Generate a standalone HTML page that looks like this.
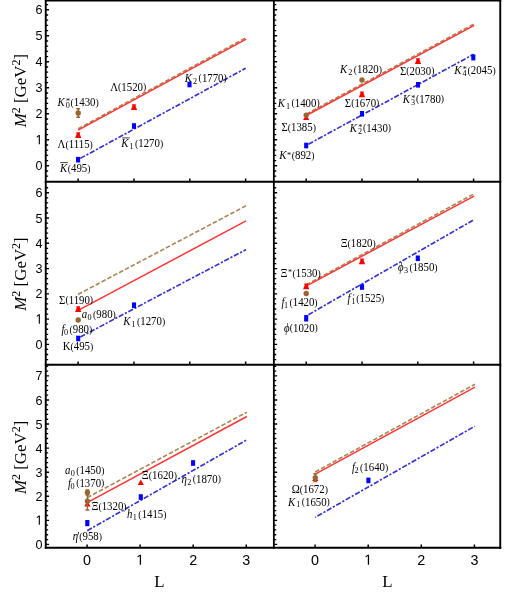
<!DOCTYPE html>
<html><head><meta charset="utf-8"><title>chart</title><style>html,body{margin:0;padding:0;background:#fff;overflow:hidden}svg{display:block;position:absolute;left:0;top:0;will-change:transform}</style></head><body>
<svg width="529" height="593" viewBox="0 0 529 593">
<rect width="100%" height="100%" fill="#fff"/>
<path d="M78.1 128.8L246.2 37.6" stroke="#aa8555" stroke-width="1.60" fill="none" stroke-dasharray="4.55 2.07"/>
<path d="M78.1 130.2L246.2 39.1" stroke="#ff3535" stroke-width="1.50" fill="none"/>
<path d="M78.1 159.6L245.7 68.2" stroke="#3333cc" stroke-width="1.65" fill="none" stroke-dasharray="5.25 1.7 2.2 1.7" stroke-dashoffset="8.3"/>
<path d="M306.2 114.1L474.2 23.9" stroke="#aa8555" stroke-width="1.60" fill="none" stroke-dasharray="4.55 2.07"/>
<path d="M306.2 115.5L474.2 25.3" stroke="#ff3535" stroke-width="1.50" fill="none"/>
<path d="M306.2 145.4L473.6 54.3" stroke="#3333cc" stroke-width="1.65" fill="none" stroke-dasharray="5.25 1.7 2.2 1.7" stroke-dashoffset="8.3"/>
<path d="M78.1 294.3L246.0 205.8" stroke="#aa8555" stroke-width="1.60" fill="none" stroke-dasharray="4.55 2.07"/>
<path d="M78.1 310.4L246.0 220.9" stroke="#ff3535" stroke-width="1.50" fill="none"/>
<path d="M78.1 338.2L246.0 249.6" stroke="#3333cc" stroke-width="1.65" fill="none" stroke-dasharray="5.25 1.7 2.2 1.7" stroke-dashoffset="8.3"/>
<path d="M306.2 284.8L474.0 193.9" stroke="#aa8555" stroke-width="1.60" fill="none" stroke-dasharray="4.55 2.07"/>
<path d="M306.2 286.1L474.0 196.1" stroke="#ff3535" stroke-width="1.50" fill="none"/>
<path d="M306.2 316.0L474.0 219.7" stroke="#3333cc" stroke-width="1.65" fill="none" stroke-dasharray="5.25 1.7 2.2 1.7" stroke-dashoffset="8.3"/>
<path d="M87.2 497.6L246.8 412.2" stroke="#aa8555" stroke-width="1.60" fill="none" stroke-dasharray="4.55 2.07"/>
<path d="M87.2 502.7L246.8 416.5" stroke="#ff3535" stroke-width="1.50" fill="none"/>
<path d="M87.2 530.7L246.8 439.9" stroke="#3333cc" stroke-width="1.65" fill="none" stroke-dasharray="5.25 1.7 2.2 1.7" stroke-dashoffset="10.8"/>
<path d="M315.2 472.0L475.0 384.2" stroke="#aa8555" stroke-width="1.60" fill="none" stroke-dasharray="4.55 2.07"/>
<path d="M315.2 474.2L475.0 387.1" stroke="#ff3535" stroke-width="1.50" fill="none"/>
<path d="M315.2 517.3L474.7 426.3" stroke="#3333cc" stroke-width="1.65" fill="none" stroke-dasharray="5.25 1.7 2.2 1.7" stroke-dashoffset="8.3"/>
<path d="M78.2 108.4V117.6M76.3 108.7h3.8M76.3 117.3h3.8" stroke="#996633" stroke-width="1.5" fill="none"/>
<circle cx="78.2" cy="113.0" r="2.7" fill="#996633"/>
<path d="M76.3 132.3L80.1 132.3L80.1 133.5L79.6 133.5L81.3 138.0L75.1 138.0L76.8 133.5L76.3 133.5Z" fill="#ff0000"/>
<rect x="76.05" y="156.9" width="4.1" height="5.6" fill="#0000ff"/>
<path d="M132.1 104.2L135.9 104.2L135.9 105.4L135.4 105.4L137.1 109.9L130.9 109.9L132.6 105.4L132.1 105.4Z" fill="#ff0000"/>
<rect x="131.95" y="123.2" width="4.1" height="5.6" fill="#0000ff"/>
<rect x="187.45" y="81.7" width="4.1" height="5.6" fill="#0000ff"/>
<path d="M306.2 114.4L309.3 120.1L303.1 120.1Z" fill="#ff0000"/>
<circle cx="306.2" cy="115.1" r="2.7" fill="#996633"/>
<rect x="304.15" y="142.7" width="4.1" height="5.6" fill="#0000ff"/>
<circle cx="362.0" cy="80.0" r="2.7" fill="#996633"/>
<path d="M360.1 91.5L363.9 91.5L363.9 92.7L363.4 92.7L365.1 97.2L358.9 97.2L360.6 92.7L360.1 92.7Z" fill="#ff0000"/>
<rect x="359.95" y="111.0" width="4.1" height="5.6" fill="#0000ff"/>
<path d="M416.1 58.2L419.9 58.2L419.9 59.4L419.4 59.4L421.1 63.9L414.9 63.9L416.6 59.4L416.1 59.4Z" fill="#ff0000"/>
<rect x="415.95" y="82.0" width="4.1" height="5.6" fill="#0000ff"/>
<rect x="471.25" y="54.4" width="4.1" height="6.0" fill="#0000ff"/>
<path d="M76.3 306.3L80.1 306.3L80.1 307.5L79.6 307.5L81.3 312.0L75.1 312.0L76.8 307.5L76.3 307.5Z" fill="#ff0000"/>
<circle cx="78.2" cy="320.0" r="2.7" fill="#996633"/>
<rect x="76.15" y="335.7" width="4.1" height="5.6" fill="#0000ff"/>
<rect x="131.95" y="302.4" width="4.1" height="5.6" fill="#0000ff"/>
<path d="M304.3 283.6L308.1 283.6L308.1 284.8L307.6 284.8L309.3 289.3L303.1 289.3L304.8 284.8L304.3 284.8Z" fill="#ff0000"/>
<circle cx="306.2" cy="293.5" r="2.7" fill="#996633"/>
<rect x="304.15" y="315.1" width="4.1" height="6.4" fill="#0000ff"/>
<path d="M360.1 258.5L363.9 258.5L363.9 259.7L363.4 259.7L365.1 264.2L358.9 264.2L360.6 259.7L360.1 259.7Z" fill="#ff0000"/>
<rect x="359.95" y="284.2" width="4.1" height="5.6" fill="#0000ff"/>
<rect x="415.75" y="255.5" width="4.1" height="5.6" fill="#0000ff"/>
<path d="M87.4 500.8L90.5 506.5L84.3 506.5Z" fill="#ff0000"/>
<path d="M87.4 489.9V495.1M85.5 490.1h3.8M85.5 494.9h3.8" stroke="#996633" stroke-width="1.5" fill="none"/>
<circle cx="87.4" cy="492.5" r="2.7" fill="#996633"/>
<path d="M87.4 492.2V510.2M85.5 492.4h3.8M85.5 509.9h3.8" stroke="#996633" stroke-width="1.5" fill="none"/>
<circle cx="87.4" cy="501.2" r="2.7" fill="#996633"/>
<rect x="85.25" y="520.0" width="4.1" height="6.2" fill="#0000ff"/>
<path d="M140.8 479.4L143.9 485.1L137.7 485.1Z" fill="#ff0000"/>
<rect x="138.75" y="494.2" width="4.1" height="5.6" fill="#0000ff"/>
<rect x="191.05" y="460.2" width="4.1" height="5.6" fill="#0000ff"/>
<path d="M315.3 475.4L318.4 481.1L312.2 481.1Z" fill="#ff0000"/>
<path d="M315.3 473.4V481.8M313.4 473.7h3.8M313.4 481.6h3.8" stroke="#996633" stroke-width="1.5" fill="none"/>
<circle cx="315.3" cy="477.6" r="2.7" fill="#996633"/>
<rect x="366.35" y="477.6" width="4.1" height="5.6" fill="#0000ff"/>
<path d="M44.8 0.55H501.2" stroke="#000" stroke-width="1.90"/>
<path d="M44.8 181.75H501.2" stroke="#000" stroke-width="1.80"/>
<path d="M44.8 364.75H501.2" stroke="#000" stroke-width="1.80"/>
<path d="M44.8 547.80H501.2" stroke="#000" stroke-width="2.00"/>
<path d="M45.75 0.0V548.8" stroke="#000" stroke-width="1.90"/>
<path d="M273.85 0.0V548.8" stroke="#000" stroke-width="1.80"/>
<path d="M500.25 0.0V548.8" stroke="#000" stroke-width="1.90"/>
<path d="M45.8 165.80h3.25M45.8 139.80h3.25M45.8 113.80h3.25M45.8 87.80h3.25M45.8 61.80h3.25M45.8 35.80h3.25M45.8 9.80h3.25M273.9 165.80h3.25M273.9 139.80h3.25M273.9 113.80h3.25M273.9 87.80h3.25M273.9 61.80h3.25M273.9 35.80h3.25M273.9 9.80h3.25M45.8 344.40h3.25M45.8 319.13h3.25M45.8 293.86h3.25M45.8 268.59h3.25M45.8 243.32h3.25M45.8 218.05h3.25M45.8 192.78h3.25M273.9 344.40h3.25M273.9 319.13h3.25M273.9 293.86h3.25M273.9 268.59h3.25M273.9 243.32h3.25M273.9 218.05h3.25M273.9 192.78h3.25M45.8 544.40h3.25M45.8 520.33h3.25M45.8 496.26h3.25M45.8 472.19h3.25M45.8 448.12h3.25M45.8 424.05h3.25M45.8 399.98h3.25M45.8 375.91h3.25M273.9 544.40h3.25M273.9 520.33h3.25M273.9 496.26h3.25M273.9 472.19h3.25M273.9 448.12h3.25M273.9 424.05h3.25M273.9 399.98h3.25M273.9 375.91h3.25" stroke="#000" stroke-width="1.4" fill="none"/>
<path d="M45.8 176.20h2.35M45.8 171.00h2.35M45.8 160.60h2.35M45.8 155.40h2.35M45.8 150.20h2.35M45.8 145.00h2.35M45.8 134.60h2.35M45.8 129.40h2.35M45.8 124.20h2.35M45.8 119.00h2.35M45.8 108.60h2.35M45.8 103.40h2.35M45.8 98.20h2.35M45.8 93.00h2.35M45.8 82.60h2.35M45.8 77.40h2.35M45.8 72.20h2.35M45.8 67.00h2.35M45.8 56.60h2.35M45.8 51.40h2.35M45.8 46.20h2.35M45.8 41.00h2.35M45.8 30.60h2.35M45.8 25.40h2.35M45.8 20.20h2.35M45.8 15.00h2.35M45.8 4.60h2.35M273.9 176.20h2.35M273.9 171.00h2.35M273.9 160.60h2.35M273.9 155.40h2.35M273.9 150.20h2.35M273.9 145.00h2.35M273.9 134.60h2.35M273.9 129.40h2.35M273.9 124.20h2.35M273.9 119.00h2.35M273.9 108.60h2.35M273.9 103.40h2.35M273.9 98.20h2.35M273.9 93.00h2.35M273.9 82.60h2.35M273.9 77.40h2.35M273.9 72.20h2.35M273.9 67.00h2.35M273.9 56.60h2.35M273.9 51.40h2.35M273.9 46.20h2.35M273.9 41.00h2.35M273.9 30.60h2.35M273.9 25.40h2.35M273.9 20.20h2.35M273.9 15.00h2.35M273.9 4.60h2.35M45.8 359.56h2.35M45.8 354.51h2.35M45.8 349.45h2.35M45.8 339.35h2.35M45.8 334.29h2.35M45.8 329.24h2.35M45.8 324.18h2.35M45.8 314.08h2.35M45.8 309.02h2.35M45.8 303.97h2.35M45.8 298.91h2.35M45.8 288.81h2.35M45.8 283.75h2.35M45.8 278.70h2.35M45.8 273.64h2.35M45.8 263.54h2.35M45.8 258.48h2.35M45.8 253.43h2.35M45.8 248.37h2.35M45.8 238.27h2.35M45.8 233.21h2.35M45.8 228.16h2.35M45.8 223.10h2.35M45.8 213.00h2.35M45.8 207.94h2.35M45.8 202.89h2.35M45.8 197.83h2.35M45.8 187.73h2.35M273.9 359.56h2.35M273.9 354.51h2.35M273.9 349.45h2.35M273.9 339.35h2.35M273.9 334.29h2.35M273.9 329.24h2.35M273.9 324.18h2.35M273.9 314.08h2.35M273.9 309.02h2.35M273.9 303.97h2.35M273.9 298.91h2.35M273.9 288.81h2.35M273.9 283.75h2.35M273.9 278.70h2.35M273.9 273.64h2.35M273.9 263.54h2.35M273.9 258.48h2.35M273.9 253.43h2.35M273.9 248.37h2.35M273.9 238.27h2.35M273.9 233.21h2.35M273.9 228.16h2.35M273.9 223.10h2.35M273.9 213.00h2.35M273.9 207.94h2.35M273.9 202.89h2.35M273.9 197.83h2.35M273.9 187.73h2.35M45.8 539.59h2.35M45.8 534.77h2.35M45.8 529.96h2.35M45.8 525.14h2.35M45.8 515.52h2.35M45.8 510.70h2.35M45.8 505.89h2.35M45.8 501.07h2.35M45.8 491.45h2.35M45.8 486.63h2.35M45.8 481.82h2.35M45.8 477.00h2.35M45.8 467.38h2.35M45.8 462.56h2.35M45.8 457.75h2.35M45.8 452.93h2.35M45.8 443.31h2.35M45.8 438.49h2.35M45.8 433.68h2.35M45.8 428.86h2.35M45.8 419.24h2.35M45.8 414.42h2.35M45.8 409.61h2.35M45.8 404.79h2.35M45.8 395.17h2.35M45.8 390.35h2.35M45.8 385.54h2.35M45.8 380.72h2.35M45.8 371.10h2.35M45.8 366.28h2.35M273.9 539.59h2.35M273.9 534.77h2.35M273.9 529.96h2.35M273.9 525.14h2.35M273.9 515.52h2.35M273.9 510.70h2.35M273.9 505.89h2.35M273.9 501.07h2.35M273.9 491.45h2.35M273.9 486.63h2.35M273.9 481.82h2.35M273.9 477.00h2.35M273.9 467.38h2.35M273.9 462.56h2.35M273.9 457.75h2.35M273.9 452.93h2.35M273.9 443.31h2.35M273.9 438.49h2.35M273.9 433.68h2.35M273.9 428.86h2.35M273.9 419.24h2.35M273.9 414.42h2.35M273.9 409.61h2.35M273.9 404.79h2.35M273.9 395.17h2.35M273.9 390.35h2.35M273.9 385.54h2.35M273.9 380.72h2.35M273.9 371.10h2.35M273.9 366.28h2.35" stroke="#000" stroke-width="1.3" fill="none"/>
<path d="M78.10 181.8v-3.2M133.95 181.8v-3.2M189.80 181.8v-3.2M245.65 181.8v-3.2M306.20 181.8v-3.2M362.00 181.8v-3.2M417.80 181.8v-3.2M473.60 181.8v-3.2M78.10 364.8v-3.2M133.95 364.8v-3.2M189.80 364.8v-3.2M245.65 364.8v-3.2M306.20 364.8v-3.2M362.00 364.8v-3.2M417.80 364.8v-3.2M473.60 364.8v-3.2M87.10 547.8v-3.2M140.15 547.8v-3.2M193.20 547.8v-3.2M246.25 547.8v-3.2M315.10 547.8v-3.2M368.20 547.8v-3.2M421.30 547.8v-3.2M474.40 547.8v-3.2" stroke="#000" stroke-width="1.5" fill="none"/>
<g font-family="Liberation Sans, sans-serif" font-size="13.5" fill="#000">
<text x="35.6" y="170.3" textLength="7" lengthAdjust="spacingAndGlyphs">0</text>
<path transform="translate(35.60 144.30) scale(0.006146 -0.006592)" d="M515 0V1237L197 1010V1180L530 1409H696V0Z" fill="#000"/>
<text x="35.6" y="118.3" textLength="7" lengthAdjust="spacingAndGlyphs">2</text>
<text x="35.6" y="92.3" textLength="7" lengthAdjust="spacingAndGlyphs">3</text>
<text x="35.6" y="66.3" textLength="7" lengthAdjust="spacingAndGlyphs">4</text>
<text x="35.6" y="40.3" textLength="7" lengthAdjust="spacingAndGlyphs">5</text>
<text x="35.6" y="14.3" textLength="7" lengthAdjust="spacingAndGlyphs">6</text>
<text x="35.6" y="348.9" textLength="7" lengthAdjust="spacingAndGlyphs">0</text>
<path transform="translate(35.60 323.63) scale(0.006146 -0.006592)" d="M515 0V1237L197 1010V1180L530 1409H696V0Z" fill="#000"/>
<text x="35.6" y="298.4" textLength="7" lengthAdjust="spacingAndGlyphs">2</text>
<text x="35.6" y="273.1" textLength="7" lengthAdjust="spacingAndGlyphs">3</text>
<text x="35.6" y="247.8" textLength="7" lengthAdjust="spacingAndGlyphs">4</text>
<text x="35.6" y="222.5" textLength="7" lengthAdjust="spacingAndGlyphs">5</text>
<text x="35.6" y="197.3" textLength="7" lengthAdjust="spacingAndGlyphs">6</text>
<text x="35.6" y="548.9" textLength="7" lengthAdjust="spacingAndGlyphs">0</text>
<path transform="translate(35.60 524.83) scale(0.006146 -0.006592)" d="M515 0V1237L197 1010V1180L530 1409H696V0Z" fill="#000"/>
<text x="35.6" y="500.8" textLength="7" lengthAdjust="spacingAndGlyphs">2</text>
<text x="35.6" y="476.7" textLength="7" lengthAdjust="spacingAndGlyphs">3</text>
<text x="35.6" y="452.6" textLength="7" lengthAdjust="spacingAndGlyphs">4</text>
<text x="35.6" y="428.5" textLength="7" lengthAdjust="spacingAndGlyphs">5</text>
<text x="35.6" y="404.5" textLength="7" lengthAdjust="spacingAndGlyphs">6</text>
<text x="35.6" y="380.4" textLength="7" lengthAdjust="spacingAndGlyphs">7</text>
<text x="83.1" y="564.7" font-size="14.5" textLength="8" lengthAdjust="spacingAndGlyphs">0</text>
<path transform="translate(136.15 564.70) scale(0.007026 -0.007080)" d="M515 0V1237L197 1010V1180L530 1409H696V0Z" fill="#000"/>
<text x="189.2" y="564.7" font-size="14.5" textLength="8" lengthAdjust="spacingAndGlyphs">2</text>
<text x="242.2" y="564.7" font-size="14.5" textLength="8" lengthAdjust="spacingAndGlyphs">3</text>
<text x="311.1" y="564.7" font-size="14.5" textLength="8" lengthAdjust="spacingAndGlyphs">0</text>
<path transform="translate(364.20 564.70) scale(0.007026 -0.007080)" d="M515 0V1237L197 1010V1180L530 1409H696V0Z" fill="#000"/>
<text x="417.3" y="564.7" font-size="14.5" textLength="8" lengthAdjust="spacingAndGlyphs">2</text>
<text x="470.4" y="564.7" font-size="14.5" textLength="8" lengthAdjust="spacingAndGlyphs">3</text>
</g>
<g font-family="Liberation Serif, serif" font-size="16.9" fill="#000">
<text x="159.5" y="587" text-anchor="middle">L</text><text x="387.3" y="587" text-anchor="middle">L</text>
<text transform="translate(26 90.6) rotate(-90)" text-anchor="middle"><tspan font-style="italic">M</tspan><tspan font-size="12" dy="-6">2</tspan><tspan dy="6"> [GeV</tspan><tspan font-size="12" dy="-6">2</tspan><tspan dy="6">]</tspan></text>
<text transform="translate(26 274.0) rotate(-90)" text-anchor="middle"><tspan font-style="italic">M</tspan><tspan font-size="12" dy="-6">2</tspan><tspan dy="6"> [GeV</tspan><tspan font-size="12" dy="-6">2</tspan><tspan dy="6">]</tspan></text>
<text transform="translate(26 457.4) rotate(-90)" text-anchor="middle"><tspan font-style="italic">M</tspan><tspan font-size="12" dy="-6">2</tspan><tspan dy="6"> [GeV</tspan><tspan font-size="12" dy="-6">2</tspan><tspan dy="6">]</tspan></text>
</g>
<g font-family="Liberation Serif, serif" font-size="11.0" fill="#000" text-anchor="middle">
<text transform="translate(78.1 106.2) scale(0.985 1.1)"><tspan font-style="italic">K</tspan><tspan font-size="8.3" dy="2.0" dx="1.0">0</tspan><tspan font-size="8.3" dy="-3.6" dx="-3.9">*</tspan><tspan font-size="9.9" dy="1.3" dx="0.6">(</tspan><tspan dy="0.3">1430</tspan><tspan font-size="9.9" dy="-0.3">)</tspan></text>
<text transform="translate(75.2 148.2) scale(0.985 1.1)"><tspan>Λ</tspan><tspan font-size="9.9" dy="-0.3">(</tspan><tspan dy="0.3">1115</tspan><tspan font-size="9.9" dy="-0.3">)</tspan></text>
<text transform="translate(75.2 172.1) scale(0.985 1.1)"><tspan font-style="italic">K</tspan><tspan font-size="9.9" dy="-0.3" dx="0.6">(</tspan><tspan dy="0.3">495</tspan><tspan font-size="9.9" dy="-0.3">)</tspan></text>
<path d="M60.3 162.6h7.6" stroke="#000" stroke-width="0.75"/>
<text transform="translate(128.2 90.8) scale(0.985 1.1)"><tspan>Λ</tspan><tspan font-size="9.9" dy="-0.3">(</tspan><tspan dy="0.3">1520</tspan><tspan font-size="9.9" dy="-0.3">)</tspan></text>
<text transform="translate(142.2 147.4) scale(0.985 1.1)"><tspan font-style="italic">K</tspan><tspan font-size="8.3" dy="1.8" dx="1.0">1</tspan><tspan font-size="9.9" dy="-2.1" dx="1.5">(</tspan><tspan dy="0.3">1270</tspan><tspan font-size="9.9" dy="-0.3">)</tspan></text>
<path d="M122.2 137.9h7.6" stroke="#000" stroke-width="0.75"/>
<text transform="translate(205.8 81.6) scale(0.985 1.1)"><tspan font-style="italic">K</tspan><tspan font-size="8.3" dy="1.8" dx="1.0">2</tspan><tspan font-size="9.9" dy="-2.1" dx="1.5">(</tspan><tspan dy="0.3">1770</tspan><tspan font-size="9.9" dy="-0.3">)</tspan></text>
<text transform="translate(361.0 73.0) scale(0.985 1.1)"><tspan font-style="italic">K</tspan><tspan font-size="8.3" dy="1.8" dx="1.0">2</tspan><tspan font-size="9.9" dy="-2.1" dx="1.5">(</tspan><tspan dy="0.3">1820</tspan><tspan font-size="9.9" dy="-0.3">)</tspan></text>
<text transform="translate(298.7 106.6) scale(0.985 1.1)"><tspan font-style="italic">K</tspan><tspan font-size="8.3" dy="1.8" dx="1.0">1</tspan><tspan font-size="9.9" dy="-2.1" dx="1.5">(</tspan><tspan dy="0.3">1400</tspan><tspan font-size="9.9" dy="-0.3">)</tspan></text>
<text transform="translate(298.7 131.4) scale(0.985 1.1)"><tspan>Σ</tspan><tspan font-size="9.9" dy="-0.3">(</tspan><tspan dy="0.3">1385</tspan><tspan font-size="9.9" dy="-0.3">)</tspan></text>
<text transform="translate(362.1 106.8) scale(0.985 1.1)"><tspan>Σ</tspan><tspan font-size="9.9" dy="-0.3">(</tspan><tspan dy="0.3">1670</tspan><tspan font-size="9.9" dy="-0.3">)</tspan></text>
<text transform="translate(370.4 131.8) scale(0.985 1.1)"><tspan font-style="italic">K</tspan><tspan font-size="8.3" dy="2.0" dx="1.0">2</tspan><tspan font-size="8.3" dy="-3.6" dx="-3.9">*</tspan><tspan font-size="9.9" dy="1.3" dx="0.6">(</tspan><tspan dy="0.3">1430</tspan><tspan font-size="9.9" dy="-0.3">)</tspan></text>
<text transform="translate(296.9 159.3) scale(0.985 1.1)"><tspan font-style="italic">K</tspan><tspan font-size="8.3" dy="-1.6" dx="0.5">*</tspan><tspan font-size="9.9" dy="1.3" dx="0.6">(</tspan><tspan dy="0.3">892</tspan><tspan font-size="9.9" dy="-0.3">)</tspan></text>
<text transform="translate(417.2 74.8) scale(0.985 1.1)"><tspan>Σ</tspan><tspan font-size="9.9" dy="-0.3">(</tspan><tspan dy="0.3">2030</tspan><tspan font-size="9.9" dy="-0.3">)</tspan></text>
<text transform="translate(475.0 74.1) scale(0.985 1.1)"><tspan font-style="italic">K</tspan><tspan font-size="8.3" dy="2.0" dx="1.0">4</tspan><tspan font-size="8.3" dy="-3.6" dx="-3.9">*</tspan><tspan font-size="9.9" dy="1.3" dx="0.6">(</tspan><tspan dy="0.3">2045</tspan><tspan font-size="9.9" dy="-0.3">)</tspan></text>
<text transform="translate(423.4 102.5) scale(0.985 1.1)"><tspan font-style="italic">K</tspan><tspan font-size="8.3" dy="2.0" dx="1.0">3</tspan><tspan font-size="8.3" dy="-3.6" dx="-3.9">*</tspan><tspan font-size="9.9" dy="1.3" dx="0.6">(</tspan><tspan dy="0.3">1780</tspan><tspan font-size="9.9" dy="-0.3">)</tspan></text>
<text transform="translate(76.1 303.5) scale(0.985 1.1)"><tspan>Σ</tspan><tspan font-size="9.9" dy="-0.3">(</tspan><tspan dy="0.3">1190</tspan><tspan font-size="9.9" dy="-0.3">)</tspan></text>
<text transform="translate(98.8 318.2) scale(0.985 1.1)"><tspan font-style="italic">a</tspan><tspan font-size="8.3" dy="1.8" dx="0.3">0</tspan><tspan font-size="9.9" dy="-2.1" dx="1.5">(</tspan><tspan dy="0.3">980</tspan><tspan font-size="9.9" dy="-0.3">)</tspan></text>
<text transform="translate(76.8 333.4) scale(0.985 1.1)"><tspan font-style="italic">f</tspan><tspan font-size="8.3" dy="1.8" dx="-0.5">0</tspan><tspan font-size="9.9" dy="-2.1" dx="1.5">(</tspan><tspan dy="0.3">980</tspan><tspan font-size="9.9" dy="-0.3">)</tspan></text>
<text transform="translate(78.0 349.9) scale(0.985 1.1)"><tspan>K</tspan><tspan font-size="9.9" dy="-0.3">(</tspan><tspan dy="0.3">495</tspan><tspan font-size="9.9" dy="-0.3">)</tspan></text>
<text transform="translate(144.2 325.0) scale(0.985 1.1)"><tspan font-style="italic">K</tspan><tspan font-size="8.3" dy="1.8" dx="1.0">1</tspan><tspan font-size="9.9" dy="-2.1" dx="1.5">(</tspan><tspan dy="0.3">1270</tspan><tspan font-size="9.9" dy="-0.3">)</tspan></text>
<text transform="translate(300.6 276.9) scale(0.985 1.1)"><tspan>Ξ</tspan><tspan font-size="8.3" dy="-1.6" dx="0.5">*</tspan><tspan font-size="9.9" dy="1.3" dx="0.6">(</tspan><tspan dy="0.3">1530</tspan><tspan font-size="9.9" dy="-0.3">)</tspan></text>
<text transform="translate(299.5 306.4) scale(0.985 1.1)"><tspan font-style="italic">f</tspan><tspan font-size="8.3" dy="1.8" dx="-0.5">1</tspan><tspan font-size="9.9" dy="-2.1" dx="1.5">(</tspan><tspan dy="0.3">1420</tspan><tspan font-size="9.9" dy="-0.3">)</tspan></text>
<text transform="translate(301.0 331.8) scale(0.985 1.1)"><tspan font-style="italic">ϕ</tspan><tspan font-size="9.9" dy="-0.3">(</tspan><tspan dy="0.3">1020</tspan><tspan font-size="9.9" dy="-0.3">)</tspan></text>
<text transform="translate(358.2 247.0) scale(0.985 1.1)"><tspan>Ξ</tspan><tspan font-size="9.9" dy="-0.3">(</tspan><tspan dy="0.3">1820</tspan><tspan font-size="9.9" dy="-0.3">)</tspan></text>
<text transform="translate(365.9 301.9) scale(0.985 1.1)"><tspan font-style="italic">f</tspan><tspan font-size="8.3" dy="2.0" dx="1.0">1</tspan><tspan font-size="8.3" dy="-3.6" dx="-2.6">′</tspan><tspan font-size="9.9" dy="1.3" dx="1.5">(</tspan><tspan dy="0.3">1525</tspan><tspan font-size="9.9" dy="-0.3">)</tspan></text>
<text transform="translate(417.8 271.4) scale(0.985 1.1)"><tspan font-style="italic">ϕ</tspan><tspan font-size="8.3" dy="1.8" dx="0.3">3</tspan><tspan font-size="9.9" dy="-2.1" dx="1.5">(</tspan><tspan dy="0.3">1850</tspan><tspan font-size="9.9" dy="-0.3">)</tspan></text>
<text transform="translate(84.7 473.9) scale(0.985 1.1)"><tspan font-style="italic">a</tspan><tspan font-size="8.3" dy="1.8" dx="0.3">0</tspan><tspan font-size="9.9" dy="-2.1" dx="1.5">(</tspan><tspan dy="0.3">1450</tspan><tspan font-size="9.9" dy="-0.3">)</tspan></text>
<text transform="translate(86.2 486.6) scale(0.985 1.1)"><tspan font-style="italic">f</tspan><tspan font-size="8.3" dy="1.8" dx="-0.5">0</tspan><tspan font-size="9.9" dy="-2.1" dx="1.5">(</tspan><tspan dy="0.3">1370</tspan><tspan font-size="9.9" dy="-0.3">)</tspan></text>
<text transform="translate(109.0 510.2) scale(0.985 1.1)"><tspan>Ξ</tspan><tspan font-size="9.9" dy="-0.3">(</tspan><tspan dy="0.3">1320</tspan><tspan font-size="9.9" dy="-0.3">)</tspan></text>
<text transform="translate(87.3 540.4) scale(0.985 1.1)"><tspan font-style="italic">η</tspan><tspan dx="-0.9">′</tspan><tspan font-size="9.9" dy="-0.3" dx="-0.3">(</tspan><tspan dy="0.3">958</tspan><tspan font-size="9.9" dy="-0.3">)</tspan></text>
<text transform="translate(146.8 518.0) scale(0.985 1.1)"><tspan font-style="italic">h</tspan><tspan font-size="8.3" dy="1.8" dx="0.3">1</tspan><tspan font-size="9.9" dy="-2.1" dx="1.5">(</tspan><tspan dy="0.3">1415</tspan><tspan font-size="9.9" dy="-0.3">)</tspan></text>
<text transform="translate(159.4 479.2) scale(0.985 1.1)"><tspan>Ξ</tspan><tspan font-size="9.9" dy="-0.3">(</tspan><tspan dy="0.3">1620</tspan><tspan font-size="9.9" dy="-0.3">)</tspan></text>
<text transform="translate(201.2 482.8) scale(0.985 1.1)"><tspan font-style="italic">η</tspan><tspan font-size="8.3" dy="1.8" dx="0.3">2</tspan><tspan font-size="9.9" dy="-2.1" dx="1.5">(</tspan><tspan dy="0.3">1870</tspan><tspan font-size="9.9" dy="-0.3">)</tspan></text>
<text transform="translate(309.8 493.4) scale(0.985 1.1)"><tspan>Ω</tspan><tspan font-size="9.9" dy="-0.3">(</tspan><tspan dy="0.3">1672</tspan><tspan font-size="9.9" dy="-0.3">)</tspan></text>
<text transform="translate(308.9 505.5) scale(0.985 1.1)"><tspan font-style="italic">K</tspan><tspan font-size="8.3" dy="1.8" dx="1.0">1</tspan><tspan font-size="9.9" dy="-2.1" dx="1.5">(</tspan><tspan dy="0.3">1650</tspan><tspan font-size="9.9" dy="-0.3">)</tspan></text>
<text transform="translate(370.1 471.4) scale(0.985 1.1)"><tspan font-style="italic">f</tspan><tspan font-size="8.3" dy="1.8" dx="-0.5">2</tspan><tspan font-size="9.9" dy="-2.1" dx="1.5">(</tspan><tspan dy="0.3">1640</tspan><tspan font-size="9.9" dy="-0.3">)</tspan></text>
</g>
</svg>
</body></html>
